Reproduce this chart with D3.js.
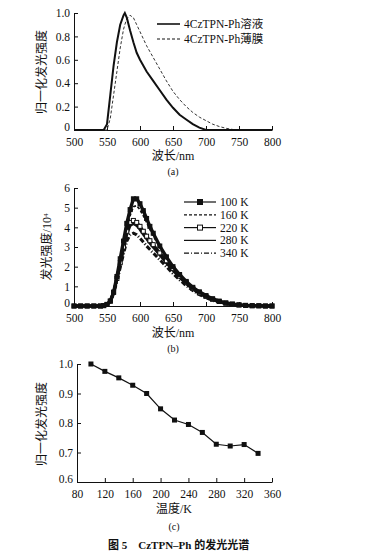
<!DOCTYPE html>
<html>
<head>
<meta charset="utf-8">
<script src="https://cdn.jsdelivr.net/npm/d3@7"></script>
<style>
  body { margin: 0; background: #fff; }
  svg { display: block; }
  text { font-family: "Liberation Serif", "Noto Sans CJK SC", serif; fill: #111; }
</style>
</head>
<body>
<div id="chart"></div>
<script>
// (a) normalized PL, solution vs film
const waveA = [500, 540, 545, 550, 555, 560, 565, 570, 575, 577, 580, 585, 590, 595, 600, 610, 620, 630, 640, 650, 660, 670, 680, 690, 700, 710, 720, 730, 740, 750, 800]
const solution = [0, 0, 0, 0.05, 0.3, 0.55, 0.75, 0.9, 0.98, 1.0, 0.96, 0.85, 0.75, 0.66, 0.6, 0.5, 0.42, 0.34, 0.26, 0.19, 0.13, 0.09, 0.05, 0.02, 0, 0, 0, 0, 0, 0, 0]
const film = [0, 0, 0, 0, 0.1, 0.3, 0.5, 0.7, 0.86, 0.9, 0.95, 0.98, 0.96, 0.9, 0.84, 0.72, 0.62, 0.52, 0.42, 0.33, 0.26, 0.2, 0.15, 0.11, 0.08, 0.05, 0.03, 0.015, 0.005, 0, 0]
const legendA = ['4CzTPN-Ph溶液', '4CzTPN-Ph薄膜']

// (b) PL intensity vs temperature (x10^4)
const waveB = [500, 510, 520, 530, 540, 545, 550, 555, 560, 565, 570, 575, 580, 585, 590, 595, 600, 605, 610, 615, 620, 630, 640, 650, 660, 670, 680, 690, 700, 710, 720, 730, 740, 750, 760, 770, 780, 790, 800]
const temps = ['100 K', '160 K', '220 K', '280 K', '340 K']
const pl100 = [0, 0, 0, 0, 0, 0.02, 0.08, 0.25, 0.7, 1.5, 2.4, 3.3, 4.2, 4.9, 5.45, 5.45, 5.2, 4.85, 4.45, 4.05, 3.7, 3.05, 2.5, 2.0, 1.6, 1.25, 0.95, 0.72, 0.53, 0.37, 0.25, 0.16, 0.1, 0.06, 0.03, 0.02, 0.01, 0, 0]
const pl160 = [0, 0, 0, 0, 0, 0.02, 0.08, 0.25, 0.7, 1.45, 2.3, 3.15, 4.0, 4.6, 5.05, 5.1, 4.9, 4.6, 4.25, 3.9, 3.58, 2.98, 2.45, 1.97, 1.58, 1.23, 0.94, 0.7, 0.52, 0.36, 0.24, 0.15, 0.1, 0.05, 0.03, 0.02, 0.01, 0, 0]
const pl220 = [0, 0, 0, 0, 0, 0.02, 0.08, 0.25, 0.7, 1.4, 2.2, 3.0, 3.8, 4.25, 4.35, 4.25, 4.05, 3.8, 3.55, 3.32, 3.12, 2.7, 2.3, 1.9, 1.52, 1.19, 0.9, 0.67, 0.49, 0.34, 0.23, 0.14, 0.09, 0.05, 0.03, 0.01, 0.01, 0, 0]
const pl280 = [0, 0, 0, 0, 0, 0.02, 0.08, 0.25, 0.68, 1.35, 2.1, 2.9, 3.65, 4.1, 4.2, 4.1, 3.9, 3.65, 3.42, 3.2, 3.0, 2.6, 2.2, 1.82, 1.46, 1.14, 0.86, 0.64, 0.46, 0.32, 0.21, 0.13, 0.08, 0.05, 0.02, 0.01, 0.01, 0, 0]
const pl340 = [0, 0, 0, 0, 0, 0.02, 0.07, 0.22, 0.62, 1.25, 1.95, 2.65, 3.3, 3.62, 3.7, 3.62, 3.45, 3.25, 3.05, 2.87, 2.7, 2.35, 2.0, 1.65, 1.33, 1.04, 0.79, 0.58, 0.42, 0.29, 0.19, 0.12, 0.07, 0.04, 0.02, 0.01, 0, 0, 0]

// (c) normalized intensity vs temperature
const tempK = [100, 120, 140, 160, 180, 200, 220, 240, 260, 280, 300, 320, 340]
const normI = [1.0, 0.975, 0.953, 0.928, 0.9, 0.848, 0.81, 0.795, 0.768, 0.728, 0.722, 0.727, 0.697]

const W = 375, H = 558
const svg = d3.select('#chart').append('svg').attr('width', W).attr('height', H)

// draws left/bottom axes with inward ticks
function drawAxes(x, y, xTicks, yTicks, yFmt) {
  const g = svg.append('g')
  const gx = g.append('g').attr('transform', `translate(0,${y.range()[0]})`)
    .call(d3.axisBottom(x).tickValues(xTicks).tickSizeInner(-4).tickSizeOuter(0).tickPadding(4))
  const gy = g.append('g').attr('transform', `translate(${x.range()[0]},0)`)
    .call(d3.axisLeft(y).tickValues(yTicks).tickFormat(yFmt).tickSizeInner(-4).tickSizeOuter(0).tickPadding(4))
  g.selectAll('.domain').attr('stroke', '#111')
  g.selectAll('.tick line').attr('stroke', '#111')
  g.selectAll('.tick text').style('font-size', '11.5px').attr('fill', '#111')
  gx.selectAll('.tick text').attr('dy', '1em')
  // lowest y label sits a little higher so it clears the first x label
  gy.selectAll('.tick text').filter((d, i) => i === 0).attr('dy', '0.05em')
  return g
}

function label(txt, x, y, rot, size) {
  const t = svg.append('text').attr('text-anchor', 'middle').style('font-size', (size || 11.5) + 'px')
  if (rot) t.attr('transform', `translate(${x},${y}) rotate(-90)`)
  else t.attr('x', x).attr('y', y)
  t.text(txt)
  return t
}

// ---------- (a) ----------
const xa = d3.scaleLinear().domain([500, 800]).range([74, 272])
const ya = d3.scaleLinear().domain([0, 1]).range([130, 13])
drawAxes(xa, ya, [500, 550, 600, 650, 700, 750, 800], [0, 0.2, 0.4, 0.6, 0.8, 1.0], d => d === 0 ? '0' : d3.format('.1f')(d))
const lineA = d3.line().x((d, i) => xa(waveA[i])).y(d => ya(d))
svg.append('path').attr('d', lineA(film)).attr('fill', 'none').attr('stroke', '#333').attr('stroke-width', 1).attr('stroke-dasharray', '3,2')
svg.append('path').attr('d', lineA(solution)).attr('fill', 'none').attr('stroke', '#111').attr('stroke-width', 2)

legendA.forEach((name, i) => {
  const ly = 24 + i * 15
  svg.append('line').attr('x1', 157).attr('x2', 180).attr('y1', ly).attr('y2', ly)
    .attr('stroke', '#111').attr('stroke-width', i ? 1 : 1.6).attr('stroke-dasharray', i ? '3,2' : null)
  svg.append('text').attr('x', 184).attr('y', ly + 4).style('font-size', '11.5px').text(name)
})
label('波长/nm', 173, 160, false, 12)
label('(a)', 173, 175, false, 10)
label('归一化发光强度', 46, 72, true, 12)

// ---------- (b) ----------
const xb = d3.scaleLinear().domain([500, 800]).range([74, 272])
const yb = d3.scaleLinear().domain([0, 6]).range([306, 188])
drawAxes(xb, yb, [500, 550, 600, 650, 700, 750, 800], [0, 1, 2, 3, 4, 5, 6], d3.format('d'))
const seriesB = [
  { v: pl340, dash: '5,2,1,2', w: 3, mark: null },
  { v: pl280, dash: null, w: 3, mark: null },
  { v: pl220, dash: null, w: 3, mark: 'open' },
  { v: pl160, dash: '3,2', w: 1.8, mark: null },
  { v: pl100, dash: null, w: 3.4, mark: 'filled' }
]
const lineB = d3.line().x((d, i) => xb(waveB[i])).y(d => yb(d))
seriesB.forEach(s => {
  svg.append('path').attr('d', lineB(s.v)).attr('fill', 'none').attr('stroke', '#111')
    .attr('stroke-width', s.w).attr('stroke-dasharray', s.dash)
  if (s.mark) {
    svg.append('g').selectAll('rect').data(s.v).join('rect')
      .attr('x', (d, i) => xb(waveB[i]) - 2).attr('y', d => yb(d) - 2)
      .attr('width', 4).attr('height', 4)
      .attr('fill', s.mark === 'filled' ? '#111' : '#fff').attr('stroke', '#111').attr('stroke-width', 1)
  }
})
const legendB = [
  { dash: null, mark: 'filled' },
  { dash: '3,2', mark: null },
  { dash: null, mark: 'open' },
  { dash: null, mark: null },
  { dash: '5,2,1,2', mark: null }
]
temps.forEach((t, i) => {
  const ly = 202 + i * 12.8
  const s = legendB[i]
  svg.append('line').attr('x1', 184).attr('x2', 216).attr('y1', ly).attr('y2', ly)
    .attr('stroke', '#111').attr('stroke-width', 1.2).attr('stroke-dasharray', s.dash)
  if (s.mark) {
    svg.append('rect').attr('x', 197.5).attr('y', ly - 2.5).attr('width', 5).attr('height', 5)
      .attr('fill', s.mark === 'filled' ? '#111' : '#fff').attr('stroke', '#111')
  }
  svg.append('text').attr('x', 220).attr('y', ly + 4).style('font-size', '11.5px').text(t)
})
label('波长/nm', 173, 337, false, 12)
label('(b)', 173, 352, false, 10)
const yl = label('', 51, 247, true, 12)
yl.text('发光强度/10')
yl.append('tspan').attr('dy', '-0.45em').style('font-size', '7px').text('4')

// ---------- (c) ----------
const xc = d3.scaleLinear().domain([80, 360]).range([77, 272])
const yc = d3.scaleLinear().domain([0.6, 1.0]).range([482, 364])
drawAxes(xc, yc, d3.range(80, 361, 40), [0.6, 0.7, 0.8, 0.9, 1.0], d3.format('.1f'))
const lineC = d3.line().x((d, i) => xc(tempK[i])).y(d => yc(d))
svg.append('path').attr('d', lineC(normI)).attr('fill', 'none').attr('stroke', '#111').attr('stroke-width', 1.2)
svg.append('g').selectAll('rect').data(normI).join('rect')
  .attr('x', (d, i) => xc(tempK[i]) - 2.5).attr('y', d => yc(d) - 2.5)
  .attr('width', 5).attr('height', 5).attr('fill', '#111')
label('温度/K', 174, 513, false, 12)
label('(c)', 174, 530, false, 10)
label('归一化发光强度', 46, 424, true, 12)

// caption
svg.append('text').attr('x', 108).attr('y', 549).style('font-size', '11px').style('font-weight', 'bold')
  .attr('xml:space', 'preserve').text('图 5　CzTPN–Ph 的发光光谱')
</script>
</body>
</html>
